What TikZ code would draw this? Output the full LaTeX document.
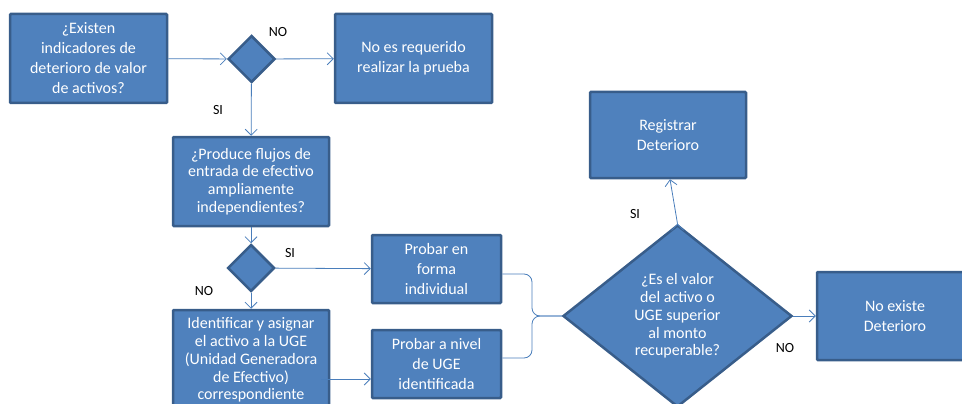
\documentclass[tikz,border=0pt]{standalone}
\usepackage{fontspec}
\setmainfont{Carlito}
\usetikzlibrary{arrows.meta}
\usetikzlibrary{positioning}
\usetikzlibrary{shapes.geometric}
\definecolor{boxfill}{HTML}{4F81BD}
\definecolor{boxline}{HTML}{385D8A}
\definecolor{flowline}{HTML}{4A7EBB}

\begin{document}
\begin{tikzpicture}[x=1pt,y=-1pt,
   box/.style={draw=boxline,line width=2.5pt,fill=boxfill,text=white,align=center,
      inner sep=1pt,rounded corners=1pt,font=\fontsize{16}{20}\selectfont},
   tight/.style={font=\fontsize{16}{17.8}\selectfont},
   choice/.style={diamond,draw=boxline,line width=2.5pt,fill=boxfill,inner sep=0pt,
      minimum width=47pt,minimum height=47pt},
   answer/.style={font=\fontsize{14}{16}\selectfont,text=black},
   flow/.style={draw=flowline,line width=0.8pt,-{Straight Barb[length=6pt,width=12pt]}},
   link/.style={draw=flowline,line width=0.8pt,rounded corners=8pt}]
   \useasboundingbox (0,0) rectangle (962,404);

   \node[box,minimum width=157pt,minimum height=89pt] (b_1) at (88.5,58.5)
      {¿Existen\\indicadores de\\deterioro de valor\\de activos?};
   \node[choice] (d_1) at (251.5,59) {};
   \node[box,minimum width=157pt,minimum height=89pt] (b_no) at (413.5,58.5)
      {No es requerido\\realizar la prueba};
   \node[box,tight,minimum width=156pt,minimum height=89pt] (b_2) at (251,181.5)
      {¿Produce flujos de\\entrada de efectivo\\ampliamente\\independientes?};
   \node[choice] (d_2) at (251,268) {};
   \node[box,minimum width=129pt,minimum height=68pt] (p_1) at (436.5,269)
      {Probar en\\forma\\individual};
   \node[box,tight,minimum width=156pt,minimum height=100pt] (b_uge) at (251,360)
      {Identificar y asignar\\el activo a la UGE\\(Unidad Generadora\\de Efectivo)\\correspondiente};
   \node[box,minimum width=129pt,minimum height=68pt] (p_2) at (436.5,364)
      {Probar a nivel\\de UGE\\identificada};
   \node[choice,tight,text=white,align=center,minimum width=229pt,minimum height=182pt,
      aspect=1.26] (d_3) at (677.5,316)
      {¿Es el valor\\del activo o\\UGE superior\\al monto\\recuperable?};
   \node[box,minimum width=156pt,minimum height=86pt] (b_reg) at (668,135)
      {Registrar\\Deterioro};
   \node[box,minimum width=156pt,minimum height=88pt] (b_ok) at (895,316)
      {No existe\\Deterioro};

   % answers
   \node[answer] (a_1) at (278,32) {NO};
   \node[answer] (a_2) at (218,110) {SI};
   \node[answer] (a_3) at (290,253) {SI};
   \node[answer] (a_4) at (204,291) {NO};
   \node[answer] (a_5) at (635,214) {SI};
   \node[answer] (a_6) at (785,348) {NO};

   \coordinate (j) at (532,316);
   \coordinate (t) at (0,379);

   \path[flow]
   (b_1) edge (d_1)
   (d_1) edge (b_no)
   (d_1) edge (b_2)
   (b_2) edge (d_2)
   (d_2) edge (b_uge)
   (d_2) edge (p_1)
   (d_3.east) edge (b_ok)
   (d_3.north) edge ([xshift=2pt]b_reg.south);
   \draw[flow] ([xshift=-9pt]b_uge.east |- t) -- (p_2.west |- t);
   \draw[link] ([yshift=-5pt]p_1.east) -| (j) -- (d_3.west);
   \draw[link] ([yshift=6pt]p_2.east) -| (j) -- (d_3.west);
\end{tikzpicture}
\end{document}
